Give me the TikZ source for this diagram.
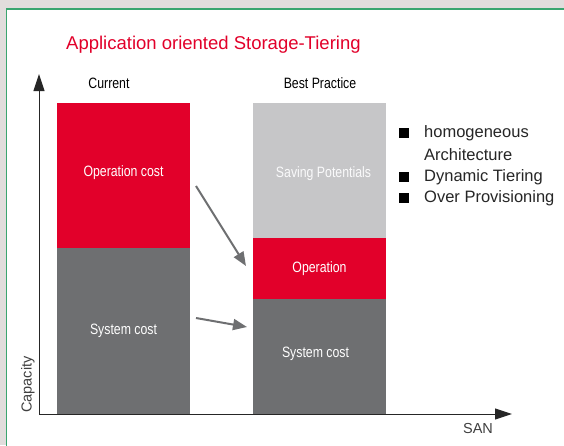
\documentclass[tikz,border=0pt]{standalone}
\usepackage{fontspec}
\setmainfont{Liberation Sans}
\newfontfamily\condfont[FakeStretch=0.82]{Liberation Sans}
\usetikzlibrary{arrows.meta,positioning,calc}
\usepackage{xcolor}
\definecolor{tierred}{HTML}{E2002A}
\definecolor{tierdark}{HTML}{6E6F71}
\definecolor{tierlight}{HTML}{C6C6C8}
\definecolor{framegreen}{HTML}{3AA56F}
\definecolor{outergray}{HTML}{E1DDDC}

\begin{document}
\begin{tikzpicture}[x=1pt,y=-1pt,>=Latex,
  block/.style={anchor=north west,inner sep=0pt,outer sep=0pt,minimum width=133pt},
  barlabel/.style={text=white,font=\condfont\fontsize{15}{17}\selectfont},
  movearrow/.style={line width=2pt,draw=tierdark,-{Triangle[length=14pt,width=11pt]}},
  bullet/.style={fill=black,minimum size=10pt,inner sep=0pt}]
\useasboundingbox (0,0) rectangle (564,445);
\fill[outergray] (0,0) rectangle (564,445);
\fill[white] (6.5,9) rectangle (570,450);
\draw[framegreen,line width=1.3pt] (6.5,450)--(6.5,9)--(570,9);

\node[anchor=west,inner sep=0pt,text=tierred,font=\fontsize{18.5}{20}\selectfont] (title) at (66,45) {Application oriented Storage-Tiering};

% axes
\coordinate (O) at (39,414);
\coordinate (Ytop) at (39,74);
\coordinate (Xend) at (512,414);
\draw[-{Triangle[length=17pt,width=11pt]},line width=1pt,black!85] (O)--(Ytop);
\draw[-{Triangle[length=17pt,width=11pt]},line width=1pt,black!85] (O)--(Xend);
\node[rotate=90,anchor=west,inner sep=0pt,text=black!75,font=\fontsize{14.5}{16}\selectfont] (cap) at (28,413) {Capacity};
\node[inner sep=0pt,text=black!75,font=\fontsize{14.5}{16}\selectfont] (san) at (478,428) {SAN};

% current
\node[font=\condfont\fontsize{15}{17}\selectfont] (cur) at (109,83) {Current};
\node[block,fill=tierred,minimum height=145pt] (curop) at (57,103) {};
\node[block,fill=tierdark,minimum height=166pt] (cursys) at (57,248) {};
\node[barlabel] at ($(curop.center)+(0,-3)$) {Operation cost};
\node[barlabel] at (cursys.center) {System cost};

% best practice
\node[font=\condfont\fontsize{15}{17}\selectfont] (best) at (320,83) {Best Practice};
\node[block,fill=tierlight,minimum height=135pt] (bestsave) at (253,103) {};
\node[block,fill=tierred,minimum height=61pt] (bestop) at (253,238) {};
\node[block,fill=tierdark,minimum height=115pt] (bestsys) at (253,299) {};
\node[barlabel,text=white!92!tierlight] at ($(bestsave.center)+(4,3)$) {Saving Potentials};
\node[barlabel] at (bestop.center) {Operation};
\node[barlabel] at ($(bestsys.center)+(-4,-3)$) {System cost};

% moves
\coordinate (m1) at (196,186); \coordinate (m2) at (246,266);
\coordinate (m3) at (196,318); \coordinate (m4) at (247,327);
\draw[movearrow] (m1)--(m2);
\draw[movearrow] (m3)--(m4);

% legend
\begin{scope}[font=\fontsize{16.5}{19}\selectfont,text=black!85]
\node[bullet] (b1) at (404,133) {};
\node[anchor=west,inner sep=0pt] (l1) at (424,133) {homogeneous};
\node[anchor=west,inner sep=0pt] (l1b) at (424,155) {Architecture};
\node[bullet] (b2) at (404,177) {};
\node[anchor=west,inner sep=0pt] (l2) at (424,177) {Dynamic Tiering};
\node[bullet] (b3) at (404,198) {};
\node[anchor=west,inner sep=0pt] (l3) at (424,198) {Over Provisioning};
\end{scope}
\end{tikzpicture}
\end{document}
